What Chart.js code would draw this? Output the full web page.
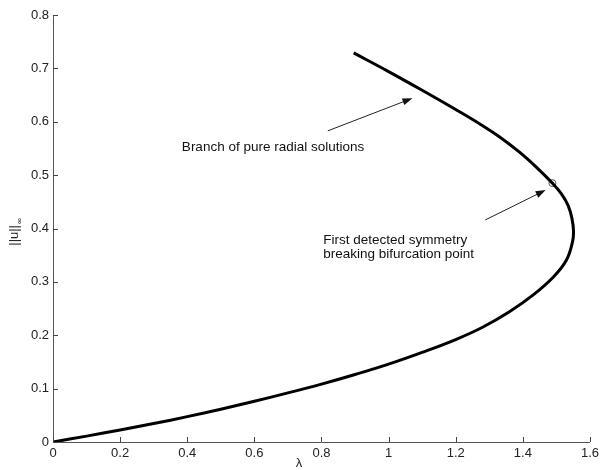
<!DOCTYPE html>
<html>
<head>
<meta charset="utf-8">
<script src="https://cdn.jsdelivr.net/npm/chart.js@4/dist/chart.umd.min.js"></script>
<style>
  body { margin: 0; background: #fff; }
</style>
</head>
<body>
<canvas id="chart" width="603" height="470"></canvas>
<script>
// branch traced from (0,0) along the lower part, round the turning point, up to the top end
const lambdaVals = [0, 0.1, 0.2, 0.3, 0.4, 0.5, 0.6, 0.7, 0.8, 0.9, 1.0, 1.1, 1.2, 1.28, 1.36, 1.432, 1.491, 1.53, 1.548, 1.551, 1.546, 1.535, 1.515, 1.488, 1.44, 1.39, 1.33, 1.264, 1.2, 1.1, 1.0, 0.896];
const normVals   = [0, 0.011, 0.0225, 0.0345, 0.0475, 0.0615, 0.0765, 0.092, 0.1085, 0.1265, 0.146, 0.168, 0.192, 0.215, 0.244, 0.276, 0.309, 0.341, 0.375, 0.395, 0.42, 0.443, 0.465, 0.485, 0.515, 0.543, 0.572, 0.599, 0.623, 0.659, 0.694, 0.729];

// first symmetry breaking bifurcation point
const bifLambda = [1.488];
const bifNorm = [0.485];

const xTicks = [0, 0.2, 0.4, 0.6, 0.8, 1, 1.2, 1.4, 1.6];
const yTicks = [0, 0.1, 0.2, 0.3, 0.4, 0.5, 0.6, 0.7, 0.8];

// annotations, in data units: [tailX, tailY, headX, headY]
const arrowBranch = [0.819, 0.583, 1.071, 0.644];
const arrowBif = [1.288, 0.416, 1.468, 0.472];
const labelBranch = ["Branch of pure radial solutions"];
const labelBif = ["First detected symmetry", "breaking bifurcation point"];
const labelBranchPos = [0.384, 0.553];
const labelBifPos = [0.805, 0.378];

const FONT = "Liberation Sans, Arial, sans-serif";

const branchData = lambdaVals.map((x, i) => ({ x: x, y: normVals[i] }));
const bifData = bifLambda.map((x, i) => ({ x: x, y: bifNorm[i] }));

function drawArrow(ctx, xs, ys, a) {
  const x1 = xs.getPixelForValue(a[0]), y1 = ys.getPixelForValue(a[1]);
  const x2 = xs.getPixelForValue(a[2]), y2 = ys.getPixelForValue(a[3]);
  const ang = Math.atan2(y2 - y1, x2 - x1);
  ctx.strokeStyle = "#222";
  ctx.fillStyle = "#111";
  ctx.lineWidth = 1;
  ctx.beginPath();
  ctx.moveTo(x1, y1);
  ctx.lineTo(x2 - 8 * Math.cos(ang), y2 - 8 * Math.sin(ang));
  ctx.stroke();
  ctx.beginPath();
  ctx.moveTo(x2, y2);
  ctx.lineTo(x2 - 10 * Math.cos(ang) + 3.5 * Math.sin(ang), y2 - 10 * Math.sin(ang) - 3.5 * Math.cos(ang));
  ctx.lineTo(x2 - 10 * Math.cos(ang) - 3.5 * Math.sin(ang), y2 - 10 * Math.sin(ang) + 3.5 * Math.cos(ang));
  ctx.closePath();
  ctx.fill();
}

const extras = {
  id: "extras",
  afterDraw(chart) {
    const ctx = chart.ctx;
    const xs = chart.scales.x, ys = chart.scales.y;
    const area = chart.chartArea;
    ctx.save();
    // inward ticks, matlab style
    ctx.strokeStyle = "#444";
    ctx.lineWidth = 1;
    ctx.beginPath();
    xTicks.forEach((v) => {
      const px = Math.round(xs.getPixelForValue(v)) + 0.5;
      ctx.moveTo(px, area.bottom);
      ctx.lineTo(px, area.bottom - 5);
    });
    yTicks.forEach((v) => {
      const py = Math.round(ys.getPixelForValue(v)) + 0.5;
      ctx.moveTo(area.left, py);
      ctx.lineTo(area.left + 5, py);
    });
    ctx.stroke();

    drawArrow(ctx, xs, ys, arrowBranch);
    drawArrow(ctx, xs, ys, arrowBif);

    ctx.fillStyle = "#111";
    ctx.font = "13.5px " + FONT;
    ctx.textAlign = "left";
    ctx.textBaseline = "middle";
    ctx.fillText(labelBranch[0], xs.getPixelForValue(labelBranchPos[0]), ys.getPixelForValue(labelBranchPos[1]));
    const bx = xs.getPixelForValue(labelBifPos[0]), by = ys.getPixelForValue(labelBifPos[1]);
    labelBif.forEach((t, i) => ctx.fillText(t, bx, by + i * 14));

    // axis titles
    ctx.fillStyle = "#222";
    ctx.textAlign = "center";
    ctx.font = "13px " + FONT;
    ctx.fillText("\u03bb", 299, 463);
    ctx.translate(14, 230);
    ctx.rotate(-Math.PI / 2);
    ctx.textAlign = "right";
    ctx.fillText("||u||", 5, 0);
    ctx.font = "8px " + FONT;
    ctx.textAlign = "left";
    ctx.fillText("\u221e", 6, 6);
    ctx.restore();
  }
};

new Chart(document.getElementById("chart").getContext("2d"), {
  type: "scatter",
  data: {
    datasets: [
      {
        data: branchData,
        showLine: true,
        borderColor: "#000",
        borderWidth: 3,
        pointRadius: 0,
        tension: 0.4
      },
      {
        data: bifData,
        showLine: false,
        pointRadius: 3.5,
        pointBorderColor: "#555",
        pointBackgroundColor: "rgba(0,0,0,0)",
        pointBorderWidth: 1
      }
    ]
  },
  options: {
    responsive: false,
    animation: false,
    layout: { padding: { top: 15, right: 9, left: 0, bottom: 0 } },
    plugins: { legend: { display: false }, tooltip: { enabled: false } },
    scales: {
      x: {
        type: "linear",
        min: 0,
        max: 1.6,
        afterBuildTicks: (s) => { s.ticks = xTicks.map((v) => ({ value: v })); },
        afterFit: (s) => { s.height = 28; },
        grid: { display: true, drawOnChartArea: false, drawTicks: false },
        border: { display: true, color: "#555", width: 1 },
        ticks: {
          color: "#222", font: { family: FONT, size: 13 }, padding: 4, maxRotation: 0,
          callback: (v) => String(Math.round(v * 10) / 10)
        }
      },
      y: {
        type: "linear",
        min: 0,
        max: 0.8,
        afterBuildTicks: (s) => { s.ticks = yTicks.map((v) => ({ value: v })); },
        afterFit: (s) => { s.width = 53; },
        grid: { display: true, drawOnChartArea: false, drawTicks: false },
        border: { display: true, color: "#555", width: 1 },
        ticks: {
          color: "#222", font: { family: FONT, size: 13 }, padding: 4,
          callback: (v) => String(Math.round(v * 10) / 10)
        }
      }
    }
  },
  plugins: [extras]
});
</script>
</body>
</html>
